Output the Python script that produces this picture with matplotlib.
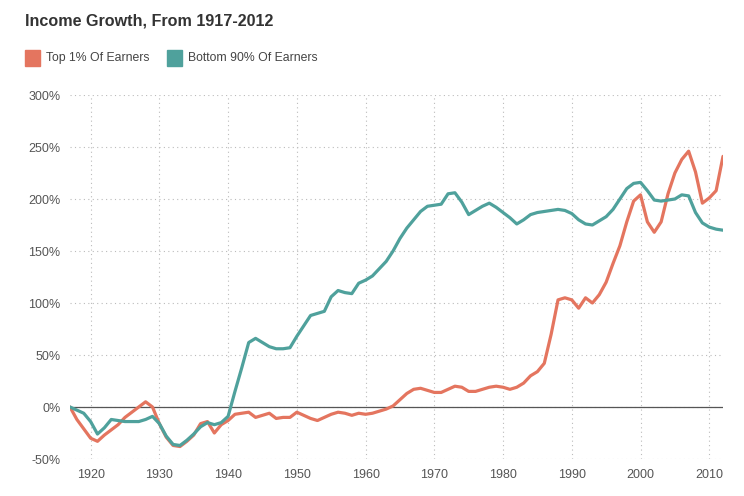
import matplotlib
matplotlib.use("Agg")
import matplotlib.pyplot as plt
import matplotlib.patches as mpatches
import numpy as np

years = list(range(1917, 2013))

top1 = [
    0, -12, -21, -30, -33, -27, -22, -17, -10, -5,      # 1917-1926
    0, 5, 0, -16, -29, -37, -38, -33, -27, -16,         # 1927-1936
    -14, -25, -17, -13, -7, -6, -5, -10, -8, -6,        # 1937-1946
    -11, -10, -10, -5, -8, -11, -13, -10, -7, -5,       # 1947-1956
    -6, -8, -6, -7, -6, -4, -2, 1, 7, 13,               # 1957-1966
    17, 18, 16, 14, 14, 17, 20, 19, 15, 15,             # 1967-1976
    17, 19, 20, 19, 17, 19, 23, 30, 34, 42,             # 1977-1986
    70, 103, 105, 103, 95, 105, 100, 108, 120, 138,     # 1987-1996
    155, 178, 198, 204, 178, 168, 178, 205, 225, 238,   # 1997-2006
    246, 226, 196, 201, 208, 241                        # 2007-2012
]

bottom90 = [
    0, -3, -6, -14, -26, -20, -12, -13, -14, -14,       # 1917-1926
    -14, -12, -9, -16, -28, -36, -37, -32, -26, -19,    # 1927-1936
    -15, -17, -15, -9, 15, 38, 62, 66, 62, 58,          # 1937-1946
    56, 56, 57, 68, 78, 88, 90, 92, 106, 112,           # 1947-1956
    110, 109, 119, 122, 126, 133, 140, 150, 162, 172,   # 1957-1966
    180, 188, 193, 194, 195, 205, 206, 197, 185, 189,   # 1967-1976
    193, 196, 192, 187, 182, 176, 180, 185, 187, 188,   # 1977-1986
    189, 190, 189, 186, 180, 176, 175, 179, 183, 190,   # 1987-1996
    200, 210, 215, 216, 208, 199, 198, 199, 200, 204,   # 1997-2006
    203, 187, 177, 173, 171, 170                        # 2007-2012
]

xticks = [1920, 1930, 1940, 1950, 1960, 1970, 1980, 1990, 2000, 2010]
yticks = [-50, 0, 50, 100, 150, 200, 250, 300]
series_names = ["Top 1% Of Earners", "Bottom 90% Of Earners"]

RED = "#E4755F"
TEAL = "#4FA19C"

plt.rcParams['font.family'] = ['Liberation Sans', 'DejaVu Sans']

fig = plt.figure(figsize=(7.44, 4.96), dpi=100)
ax = fig.add_axes([70/744, 1 - 459/496, (723-70)/744, (459-95)/496])

ax.plot(years, top1, color=RED, lw=2.3, solid_joinstyle='round', solid_capstyle='round', zorder=3)
ax.plot(years, bottom90, color=TEAL, lw=2.3, solid_joinstyle='round', solid_capstyle='round', zorder=4)

ax.axhline(0, color="#555555", lw=0.9, zorder=2)

ax.set_xlim(1917, 2012)
ax.set_ylim(-50, 300)
ax.set_xticks(xticks)
ax.set_yticks(yticks)
ax.set_yticklabels([f"{v}%" for v in yticks])
ax.grid(True, color="#bbbbbb", linestyle=(0, (1, 3)), lw=0.8, zorder=0)
for s in ax.spines.values():
    s.set_visible(False)
ax.tick_params(axis='both', length=0, labelsize=9, labelcolor="#555555")
ax.tick_params(axis='y', pad=7)
ax.tick_params(axis='x', pad=7)

fig.text(25/744, 1 - 21/496, "Income Growth, From 1917-2012", fontsize=11.6,
         fontweight='bold', color="#333333", va='center', ha='left')

# legend
leg_y = 58
for i, (name, col, x0) in enumerate(zip(series_names, [RED, TEAL], [25, 167])):
    fig.patches.append(mpatches.Rectangle((x0/744, 1 - (leg_y+7.5)/496), 15/744, 15/496,
                                          transform=fig.transFigure, color=col))
    fig.text((x0+21)/744, 1 - leg_y/496, name, fontsize=8.8, color="#444444",
             va='center', ha='left')

fig.savefig("out.png", dpi=100)
